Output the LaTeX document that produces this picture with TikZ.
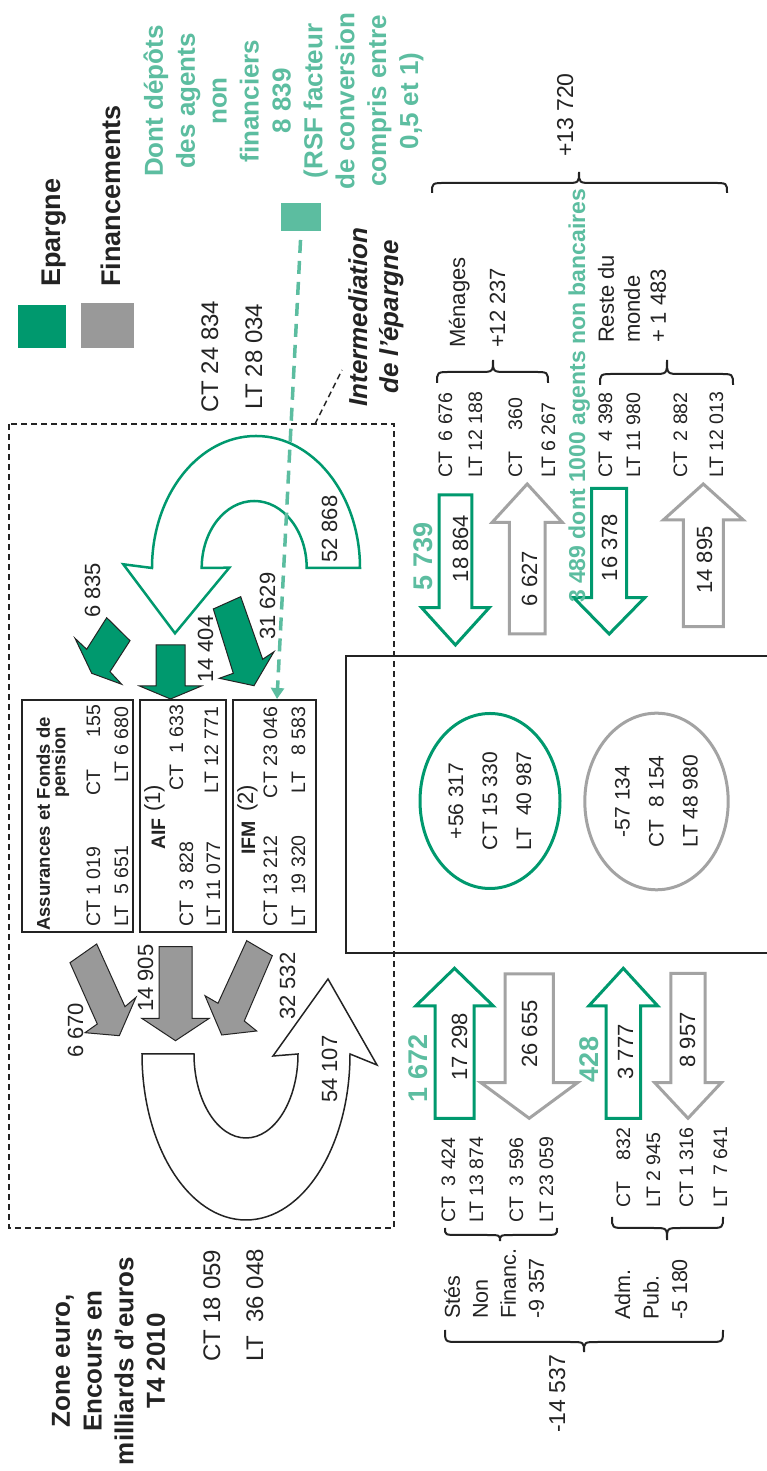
\documentclass[tikz,border=0pt]{standalone}
\usepackage{fontspec}
\setmainfont{Liberation Sans}
\usetikzlibrary{arrows.meta,shapes.geometric}
\definecolor{eg}{RGB}{0,153,110}
\definecolor{lg}{RGB}{92,189,160}
\definecolor{gf}{RGB}{153,153,153}
\definecolor{gs}{RGB}{163,163,163}
\definecolor{ink}{RGB}{35,35,35}
\newcommand\fsl[2]{\fontsize{#1}{#2}\selectfont}
% horizontal block arrow: tailX, headbaseX, tipX, Ycenter, shaft half width, head half width, style
\newcommand\harrow[7]{%
  \draw[#7] (#1,{-(#4)+(#5)}) -- (#2,{-(#4)+(#5)}) -- (#2,{-(#4)+(#6)}) -- (#3,{-(#4)})
    -- (#2,{-(#4)-(#6)}) -- (#2,{-(#4)-(#5)}) -- (#1,{-(#4)-(#5)}) -- cycle;}
% vertical curly brace: Y1, Y2, Ymid, Xend, Xline, Xtip
\newcommand\mybrace[6]{%
  \draw[bracestyle] (#4,-#1) .. controls (#5,-#1) .. (#5,{-#1-14}) -- (#5,{-#3+14})
    .. controls (#5,-#3) .. (#6,-#3) .. controls (#5,-#3) .. (#5,{-#3-14})
    -- (#5,{-#2+14}) .. controls (#5,-#2) .. (#4,-#2);}
\tikzset{
  every node/.append style={inner sep=0pt, outer sep=0pt},
  txt/.style={font=\fsl{22}{27}, text=ink},
  sm/.style={font=\fsl{19.5}{24}, text=ink},
  tot/.style={font=\fsl{24}{28}, text=ink},
  titlet/.style={font=\bfseries\fsl{26}{31.7}, text=ink},
  legt/.style={font=\bfseries\fsl{27}{32}, text=ink},
  gnote/.style={font=\bfseries\fsl{26}{31.9}, text=lg},
  gnum/.style={font=\bfseries\fsl{27}{32}, text=lg},
  hdr/.style={font=\bfseries\fsl{18.5}{15.5}, text=ink},
  tbox/.style={draw=ink, line width=1.5pt},
  dbox/.style={draw=ink, line width=1.5pt, dash pattern=on 6pt off 4pt},
  greenout/.style={draw=eg, line width=3pt, fill=white},
  grayout/.style={draw=gs, line width=3pt, fill=white},
  greenfill/.style={draw=ink, line width=1pt, fill=eg},
  grayfill/.style={draw=ink, line width=1pt, fill=gf},
  uarc/.style={draw=eg, line width=2.5pt, fill=white},
  uarcb/.style={draw=ink, line width=1.5pt, fill=white},
  bracestyle/.style={draw=ink, line width=2pt},
}
\begin{document}
\begin{tikzpicture}[x=1pt,y=1pt]
\useasboundingbox (0,0) rectangle (767,1471);
\fill[white] (0,0) rectangle (767,1471);
\begin{scope}[rotate=90, transform shape]
% ---------- title and totals ----------
\node[titlet, anchor=north, align=center] (title) at (110,-52) {Zone euro,\\Encours en\\milliards d’euros\\T4 2010};
\node[tot, anchor=base west] (ctl) at (109,-220) {CT 18 059};
\node[tot, anchor=base west] (ltl) at (109,-263) {LT~~36 048};
\node[tot, anchor=base west] (ctr) at (1058,-218) {CT 24 834};
\node[tot, anchor=base west] (ltr) at (1061,-262) {LT 28 034};
% ---------- legend ----------
\node[fill=eg, minimum width=43pt, minimum height=48pt] (lgE) at (1144.5,-42) {};
\node[fill=gf, minimum width=45pt, minimum height=53pt] (lgF) at (1145.5,-107.5) {};
\node[legt, anchor=base west] (tE) at (1184,-60) {Epargne};
\node[legt, anchor=base west] (tF) at (1184,-120) {Financements};
\node[gnote, anchor=north, align=center] (note) at (1370,-143.5) {Dont dépôts\\des agents\\non\\financiers\\8 839\\(RSF facteur\\de conversion\\compris entre\\0,5 et 1)};
\node[fill=lg, minimum width=28pt, minimum height=40pt] (sq) at (1254,-301) {};
% ---------- intermediation box ----------
\node[dbox, minimum width=804pt, minimum height=385pt] (ibox) at (645,-201.5) {};
\node[font=\bfseries\itshape\fsl{26}{31}, text=ink, anchor=north, align=center] (ilab) at (1154,-348.4) {Intermediation\\de l’épargne};
\coordinate (lead1) at (1047,-315);
\coordinate (lead2) at (1101,-342);
\draw[dbox] (lead1) -- (lead2);
% green U arrow
\draw[uarc] (903,-360) arc[start angle=-90,end angle=90,x radius=132,y radius=104]
  -- (906.7,-123.3) -- (837.7,-175) -- (903.3,-229.3) -- (903,-201.7)
  arc[start angle=90,end angle=-90,x radius=67,y radius=52.5] -- cycle;
\node[txt, anchor=base west] (l52868) at (908,-337) {52 868};
% small green arrows
\draw[greenfill] (853.3,-106.7) -- (830.3,-130) -- (799.3,-110) -- (786.7,-121.7) -- (797.7,-91.7) -- (832.7,-75) -- (821.7,-86.7) -- cycle;
\harrow{826}{785}{772}{170.5}{14.5}{31}{greenfill}
\draw[greenfill] (862,-213.3) -- (874.3,-240.7) -- (811.7,-262.7) -- (819.3,-274) -- (785.3,-254) -- (792.7,-219.3) -- (797.7,-233.3) -- cycle;
\node[txt, anchor=base west] (l6835) at (853,-100) {6 835};
\node[txt, anchor=base west] (l14404) at (788,-213) {14 404};
\node[txt, anchor=base west] (l31629) at (831,-275) {31 629};
% table boxes
\node[tbox, minimum width=232pt, minimum height=111pt] (b1) at (655,-77.5) {};
\node[tbox, minimum width=232pt, minimum height=86pt] (b2) at (655,-183) {};
\node[tbox, minimum width=232pt, minimum height=83pt] (b3) at (655,-274.5) {};
\node[hdr, anchor=north east, align=right] (h1) at (754,-36.5) {Assurances et Fonds de\\pension\hspace*{10pt}};
\node[sm, anchor=base west] (b1a) at (544,-100) {CT 1 019};
\node[sm, anchor=base west] (b1b) at (544,-128) {LT~~5 651};
\node[sm, anchor=base east] (b1c) at (766,-100) {CT\hspace{32pt}155};
\node[sm, anchor=base east] (b1d) at (764,-128) {LT 6 680};
\node[font=\bfseries\fsl{19.5}{24}, text=ink, anchor=base west] (h2) at (621,-165) {AIF};
\node[font=\fsl{22}{26}, text=ink, anchor=base west] (h2n) at (659,-160) {(1)};
\node[sm, anchor=base west] (b2a) at (544,-193) {CT~~3 828};
\node[sm, anchor=base west] (b2b) at (544,-220) {LT 11 077};
\node[sm, anchor=base east] (b2c) at (766,-183) {CT~~1 633};
\node[sm, anchor=base east] (b2d) at (764,-218) {LT 12 771};
\node[font=\bfseries\fsl{19.5}{24}, text=ink, anchor=base west] (h3) at (616,-255) {IFM};
\node[font=\fsl{22}{26}, text=ink, anchor=base west] (h3n) at (659,-253) {(2)};
\node[sm, anchor=base west] (b3a) at (544,-277) {CT 13 212};
\node[sm, anchor=base west] (b3b) at (544,-305) {LT~~19 320};
\node[sm, anchor=base east] (b3c) at (764,-277) {CT 23 046};
\node[sm, anchor=base east] (b3d) at (764,-305) {LT~~~8 583};
% gray U arrow
\draw[uarcb] (417,-142) arc[start angle=90,end angle=270,x radius=166,y radius=104]
  -- (406,-377) -- (492,-328) -- (415,-273) -- (417,-298)
  arc[start angle=270,end angle=90,x radius=84,y radius=52] -- cycle;
\node[txt, anchor=base west] (l54107) at (368,-337) {54 107};
% small gray arrows
\draw[grayfill] (508.3,-70) -- (527,-96.7) -- (464.3,-125) -- (473.7,-136) -- (435.3,-119.3) -- (438.3,-85) -- (447,-97.3) -- cycle;
\harrow{524.3}{452.7}{430.3}{175.5}{16.5}{33.8}{grayfill}
\draw[grayfill] (530.3,-246.7) -- (515.3,-272.3) -- (450,-244.3) -- (440,-256.7) -- (436,-221.7) -- (475.3,-205) -- (467.7,-218) -- cycle;
\node[txt, anchor=base west] (l6670) at (413,-83) {6 670};
\node[txt, anchor=base west] (l14905) at (459,-153) {14 905};
\node[txt, anchor=base west] (l32532) at (451,-295) {32 532};
% dashed light green connector
\coordinate (ifmtip) at (772,-277);
\draw[lg, line width=3.5pt, dash pattern=on 13pt off 8pt, shorten <=9pt, -{Triangle[length=11pt,width=13pt]}] (sq.west) -- (ifmtip);
% ---------- central frame and ellipses ----------
\node[draw=ink, line width=2.5pt, minimum width=297pt, minimum height=444pt] (mid) at (666.5,-568) {};
\node[ellipse, draw=eg, line width=3pt, minimum width=175pt, minimum height=140pt, align=center, font=\fsl{21}{34}, text=ink] (eS) at (670,-490) {+56 317\\CT 15 330\\LT~~40 987};
\node[ellipse, draw=gs, line width=3pt, minimum width=176.6pt, minimum height=143.4pt, align=center, font=\fsl{21}{34}, text=ink] (eF) at (669.5,-656.5) {-57 134\\CT~~8 154\\LT 48 980};
% ---------- right arrows ----------
\harrow{976}{863.3}{826}{455.4}{16.4}{33.8}{greenout}
\harrow{837}{948.7}{987}{527.2}{17.9}{35}{grayout}
\harrow{982.7}{873.3}{837}{609.2}{17.5}{35.5}{greenout}
\harrow{844.3}{951}{987}{703.3}{20}{40}{grayout}
\node[txt, anchor=base] (a1) at (922.5,-468) {18 864};
\node[txt, anchor=base] (a2) at (892.5,-537) {6 627};
\node[txt, anchor=base] (a3) at (923.5,-617) {16 378};
\node[txt, anchor=base] (a4) at (911,-712) {14 895};
\node[gnum, anchor=base] (g1) at (914.5,-432) {5 739};
\node[font=\bfseries\fsl{23}{27}, text=lg, anchor=base west] (g2) at (868,-585) {3 489 dont 1000 agents non bancaires};
% ---------- bottom arrows ----------
\harrow{352.7}{465}{502.7}{454.5}{19.5}{38.8}{greenout}
\harrow{497}{388.3}{352.7}{529.2}{24.2}{48.3}{grayout}
\harrow{352.7}{465}{502.7}{623.3}{17.3}{34.5}{greenout}
\harrow{497.7}{388.3}{352.7}{688}{17.2}{33.3}{grayout}
\node[txt, anchor=base] (a5) at (424.3,-467) {17 298};
\node[txt, anchor=base] (a6) at (437,-537) {26 655};
\node[txt, anchor=base] (a7) at (419,-633) {3 777};
\node[txt, anchor=base] (a8) at (431,-695) {8 957};
\node[gnum, anchor=base] (g3) at (402.5,-427) {1 672};
\node[gnum, anchor=base] (g4) at (411.5,-598) {428};
% ---------- right sectors ----------
\mybrace{432}{727}{579}{1278}{1288}{1299}
\mybrace{437}{548}{493}{1088}{1099}{1111}
\mybrace{600}{733}{667}{1086}{1097}{1111}
\node[font=\fsl{23}{27}, text=ink, anchor=base west] (tot1) at (1314,-573) {+13 720};
\node[font=\fsl{22}{40}, text=ink, anchor=north west, align=left] (men) at (1123,-449) {Ménages\\+12 237};
\node[font=\fsl{22}{26}, text=ink, anchor=north west, align=left] (rdm) at (1128,-598) {Reste du\\monde\\+ 1 483};
\node[sm, anchor=base west] (m1) at (993,-452) {CT~~6 676};
\node[sm, anchor=base west] (m2) at (993,-482) {LT 12 188};
\node[sm, anchor=base west] (m3) at (993,-522) {CT~~~~360};
\node[sm, anchor=base west] (m4) at (993,-555) {LT 6 267};
\node[sm, anchor=base west] (r1) at (993,-612) {CT~~4 398};
\node[sm, anchor=base west] (r2) at (993,-640) {LT 11 980};
\node[sm, anchor=base west] (r3) at (993,-687) {CT~~2 882};
\node[sm, anchor=base west] (r4) at (993,-723) {LT 12 013};
% ---------- bottom sectors ----------
\mybrace{445}{557}{500}{243}{236}{230}
\mybrace{612}{723}{667}{254}{243}{231}
\mybrace{445}{723}{584}{141}{129}{119}
\node[font=\fsl{21.5}{28}, text=ink, anchor=north west, align=left] (snf) at (152,-444) {Stés\\Non\\Financ.\\-9 357};
\node[font=\fsl{21.5}{28.5}, text=ink, anchor=north west, align=left] (apu) at (151,-614.6) {Adm.\\Pub.\\-5 180};
\node[font=\fsl{23}{27}, text=ink, anchor=base west] (tot2) at (38,-565) {-14 537};
\node[sm, anchor=base west] (s1) at (248,-455) {CT~~3 424};
\node[sm, anchor=base west] (s2) at (248,-483) {LT 13 874};
\node[sm, anchor=base west] (s3) at (248,-523) {CT~~3 596};
\node[sm, anchor=base west] (s4) at (248,-553) {LT 23 059};
\node[sm, anchor=base west] (p1) at (263,-630) {CT~~~~832};
\node[sm, anchor=base west] (p2) at (263,-660) {LT 2 945};
\node[sm, anchor=base west] (p3) at (263,-693) {CT 1 316};
\node[sm, anchor=base west] (p4) at (263,-727) {LT~~7 641};
\end{scope}
\end{tikzpicture}
\end{document}
